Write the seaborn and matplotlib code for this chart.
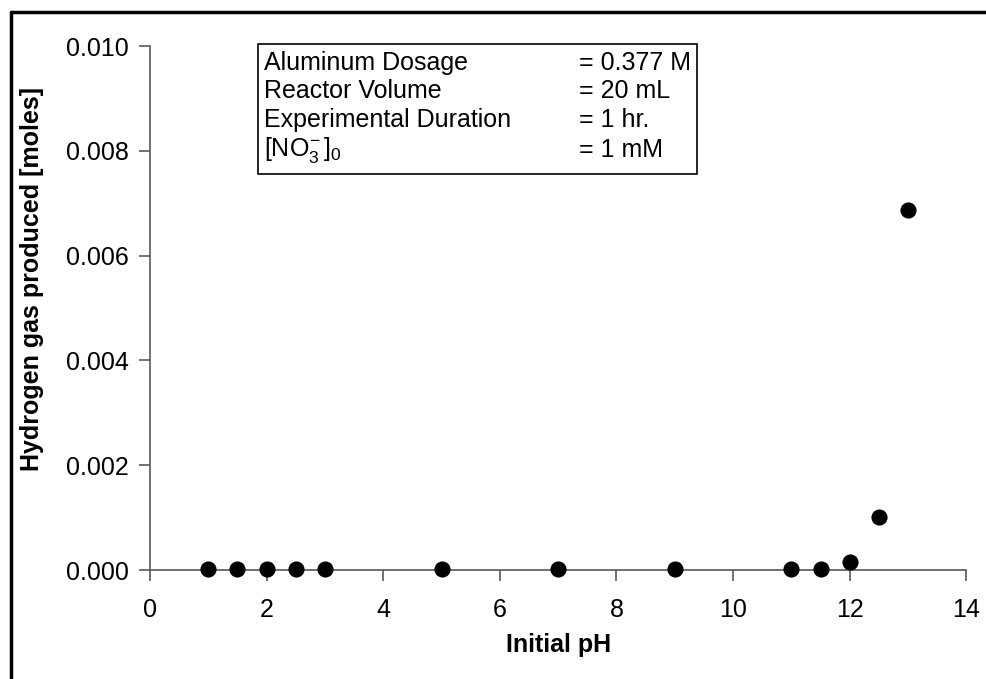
import matplotlib
matplotlib.use("Agg")
import matplotlib.pyplot as plt
import seaborn as sns
import pandas as pd
from matplotlib.lines import Line2D
from matplotlib.patches import Rectangle

# Initial pH of each run and hydrogen gas produced (moles)
initial_ph = [1, 1.5, 2, 2.5, 3, 5, 7, 9, 11, 11.5, 12, 12.5, 13]
hydrogen_moles = [0.00002, 0.00002, 0.00002, 0.00002, 0.00002, 0.00002, 0.00002,
                  0.00002, 0.00002, 0.00002, 0.00015, 0.00101, 0.00687]

x_ticks = [0, 2, 4, 6, 8, 10, 12, 14]
y_ticks = [0.000, 0.002, 0.004, 0.006, 0.008, 0.010]

conditions = ["Aluminum Dosage", "Reactor Volume", "Experimental Duration",
              r"[NO$_3^{\!-}$]$_0$"]
condition_values = ["= 0.377 M", "= 20 mL", "= 1 hr.", "= 1 mM"]

sns.set_style("white")
plt.rcParams["font.family"] = ["Liberation Sans", "DejaVu Sans"]
plt.rcParams["mathtext.fontset"] = "custom"
plt.rcParams["mathtext.rm"] = "Liberation Sans"
plt.rcParams["mathtext.it"] = "Liberation Sans:italic"
plt.rcParams["mathtext.bf"] = "Liberation Sans:bold"
plt.rcParams["text.color"] = "black"
plt.rcParams["axes.labelcolor"] = "black"

FS = 18

df = pd.DataFrame({"pH": initial_ph, "H2": hydrogen_moles})

fig = plt.figure(figsize=(9.87, 6.79), dpi=100)
ax = fig.add_axes([0.152, 0.1605, 0.827, 0.7715])

sns.scatterplot(data=df, x="pH", y="H2", ax=ax, s=135, color="black",
                edgecolor="black", linewidth=0, zorder=3, clip_on=False)

ax.set_xlim(0, 14)
ax.set_ylim(0, 0.010)
ax.set_xticks(x_ticks)
ax.set_xticklabels([str(t) for t in x_ticks])
ax.set_yticks(y_ticks)
ax.set_yticklabels([f"{t:.3f}" for t in y_ticks])

for side in ("top", "right"):
    ax.spines[side].set_visible(False)
for side in ("left", "bottom"):
    ax.spines[side].set_color("#595959")
    ax.spines[side].set_linewidth(1.2)

ax.tick_params(axis="both", which="major", direction="out", length=8,
               width=1.2, color="#595959", labelsize=FS, labelcolor="black",
               bottom=True, left=True)
ax.tick_params(axis="x", pad=12)
ax.tick_params(axis="y", pad=7)

ax.set_xlabel("Initial pH", fontsize=FS, fontweight="bold", color="black")
ax.xaxis.set_label_coords(0.5, -0.143)
ax.xaxis.label.set_va("center")
ax.set_ylabel("Hydrogen gas produced [moles]", fontsize=FS, fontweight="bold",
              color="black")
ax.yaxis.set_label_coords(-0.145, 0.555)
ax.yaxis.label.set_va("center")

# Experimental conditions box
box = Rectangle((258 / 987, 1 - 174 / 679), (697 - 258) / 987, (174 - 44) / 679,
                transform=fig.transFigure, fill=False, edgecolor="black",
                linewidth=1.2)
fig.add_artist(box)
row_y = [63, 91, 120, 150]
for label, value, yp in zip(conditions, condition_values, row_y):
    fig.text(264 / 987, 1 - yp / 679, label, fontsize=FS, va="center",
             ha="left", color="black")
    fig.text(579 / 987, 1 - yp / 679, value, fontsize=FS, va="center",
             ha="left", color="black")

# Frame lines along the top and left edges
fig.add_artist(Line2D([11 / 987, 1.0], [1 - 12 / 679, 1 - 12 / 679],
                      transform=fig.transFigure, color="black", linewidth=2.5))
fig.add_artist(Line2D([11 / 987, 11 / 987], [0, 1 - 12 / 679],
                      transform=fig.transFigure, color="black", linewidth=2.5))

fig.savefig("out.png", dpi=100)
